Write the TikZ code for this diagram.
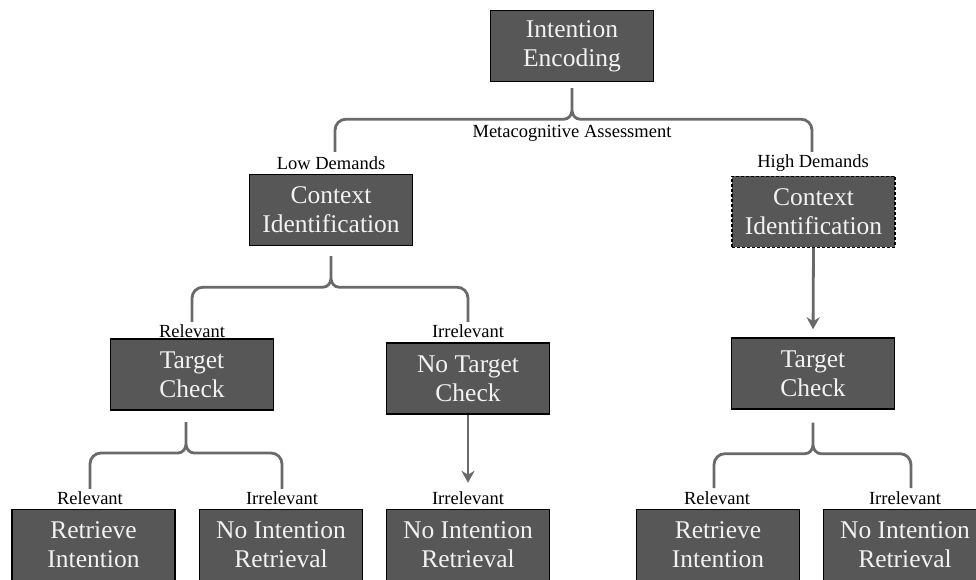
\documentclass[tikz,border=0pt]{standalone}
\usepackage{fontspec}
\setmainfont{Liberation Serif}
\usetikzlibrary{arrows.meta,calc}
\definecolor{boxgray}{HTML}{575757}
\definecolor{txtw}{HTML}{F2F2F2}
\definecolor{conngray}{HTML}{6A6A6A}
\tikzset{
  stepbox/.style={draw=black, line width=1.4pt, fill=boxgray, text=txtw, minimum width=163pt, minimum height=71pt, inner sep=0pt, align=center, font=\fontsize{25.5}{29}\selectfont, execute at begin node={\rule{0pt}{33pt}}},
  dashbox/.style={stepbox, dashed, dash pattern=on 3pt off 2pt},
  lbl/.style={inner sep=0pt, text=black, font=\fontsize{18.5}{20}\selectfont, minimum height=18pt},
  conn/.style={draw=conngray, line width=2.8pt},
  arr/.style={conn, -{Stealth[length=12pt,width=13pt]}}
}
\newcommand\bracedraw[3]{%
  \draw[conn] let \p1=(#1),\p2=(#2),\p3=(#3) in
    (\x2,\y2) -- (\x2,\y1-42pt) to[out=90,in=180] (\x2+11pt,\y1-31pt) -- (\x1-8pt,\y1-31pt) to[out=0,in=-90] (\x1,\y1-22pt) -- (\x1,\y1)
    (\x3,\y3) -- (\x3,\y1-42pt) to[out=90,in=0] (\x3-11pt,\y1-31pt) -- (\x1+8pt,\y1-31pt) to[out=180,in=-90] (\x1,\y1-22pt) -- (\x1,\y1);
}
\begin{document}
\begin{tikzpicture}[x=1pt,y=1pt]
\useasboundingbox (0,0) rectangle (976,579);
\fill[white] (0,0) rectangle (976,579);
\clip (0,0) rectangle (976,579);
% boxes
\node[stepbox] (enc) at (572,533) {Intention\\Encoding};
\node[stepbox] (ctxL) at (331,369) {Context\\Identification};
\node[dashbox] (ctxR) at (813.5,367) {Context\\Identification};
\node[stepbox] (tcL) at (192,204.5) {Target\\Check};
\node[stepbox] (ntc) at (468,200.5) {No Target\\Check};
\node[stepbox] (tcR) at (813,205.5) {Target\\Check};
\node[stepbox] (ri1) at (93.5,34) {Retrieve\\Intention};
\node[stepbox] (nir1) at (281,34) {No Intention\\Retrieval};
\node[stepbox] (nir2) at (468,34) {No Intention\\Retrieval};
\node[stepbox] (ri2) at (718,34) {Retrieve\\Intention};
\node[stepbox] (nir3) at (905,34) {No Intention\\Retrieval};
% labels
\node[lbl] (meta) at (572,446) {Metacognitive Assessment};
\node[lbl] (lowL) at (331,416) {Low Demands};
\node[lbl] (highL) at (813,416) {High Demands};
\node[lbl] (relL) at (192,248) {Relevant};
\node[lbl] (irrL) at (468,248) {Irrelevant};
\node[lbl] (rel1) at (90,81) {Relevant};
\node[lbl] (irr1) at (282,81) {Irrelevant};
\node[lbl] (irr2) at (468,81) {Irrelevant};
\node[lbl] (rel2) at (717,81) {Relevant};
\node[lbl] (irr3) at (905,81) {Irrelevant};
% brace cusps and ends
\coordinate (c0) at ([yshift=-6pt]enc.south);
\coordinate (c0l) at (335,427);
\coordinate (c0r) at (812,427);
\coordinate (c1) at ([yshift=-10pt]ctxL.south);
\coordinate (c2) at (186,157);
\coordinate (c3) at ([yshift=-13pt]tcR.south);
\coordinate (c3l) at (714,91);
\coordinate (c3r) at (911,91);
\bracedraw{c0}{c0l}{c0r}
\bracedraw{c1}{relL.north}{irrL.north}
\bracedraw{c2}{rel1.north}{irr1.north}
\bracedraw{c3}{c3l}{c3r}
% arrows
\draw[arr, shorten >=8pt] (ctxR.south) -- (tcR.north);
\draw[arr, shorten >=6pt] (ntc.south) -- (irr2.north);
\end{tikzpicture}
\end{document}
